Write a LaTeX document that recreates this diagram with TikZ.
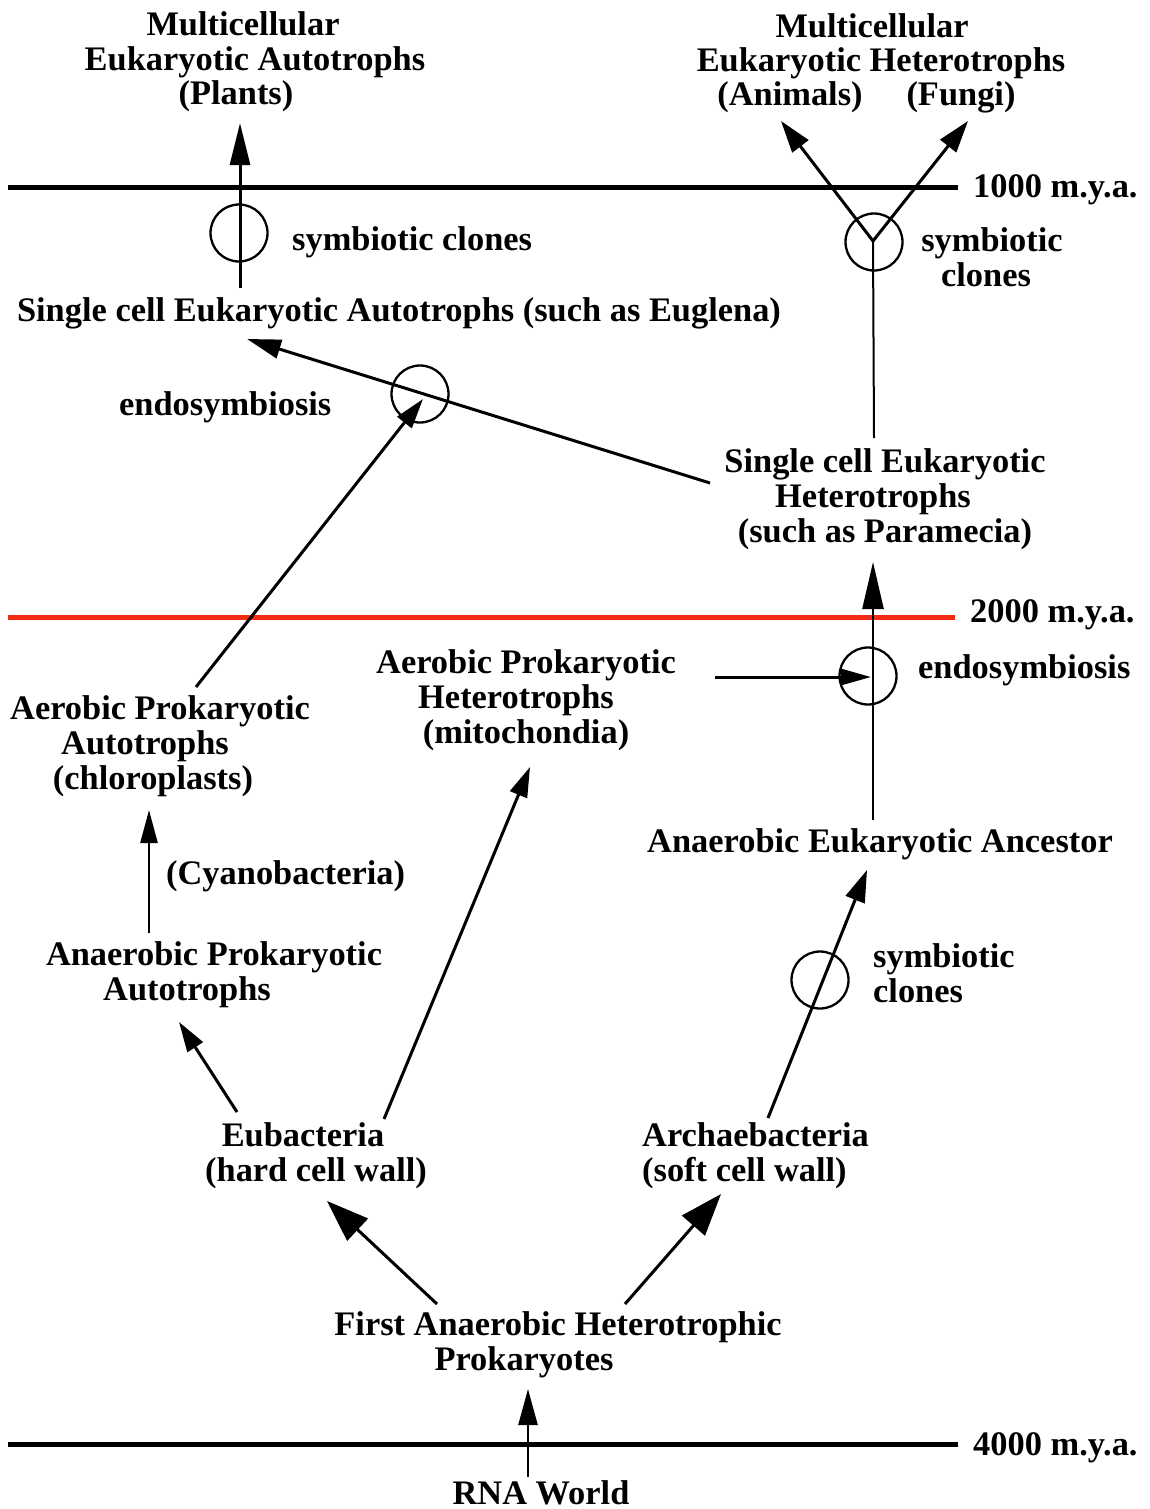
\documentclass[tikz,border=0pt]{standalone}
\usepackage{fontspec}
\setmainfont{Liberation Serif}
\usetikzlibrary{arrows.meta}
\definecolor{erared}{RGB}{240,45,20}
\newcommand\padR[1]{\rule{#1}{0pt}}
\begin{document}
\begin{tikzpicture}[x=1pt,y=-1pt,
  lbl/.style={font=\fontsize{34.4}{34.6}\selectfont\bfseries, inner sep=0pt, anchor=base, align=center},
  lblw/.style={lbl, anchor=base west, align=left},
  arr/.style={line width=3pt, -{Triangle[length=30pt,width=18pt]}},
  ring/.style={draw, circle, line width=2.3pt, minimum size=57pt, inner sep=0pt},
  era/.style={line width=5pt}]
\useasboundingbox (0,0) rectangle (1149,1509);

% era lines
\coordinate (l1a) at (8,187);   \coordinate (l1b) at (958,187);
\coordinate (l2a) at (8,617);   \coordinate (l2b) at (955,617);
\coordinate (l3a) at (8,1444);  \coordinate (l3b) at (958,1444);
\draw[era] (l1a) -- (l1b);
\draw[era, erared] (l2a) -- (l2b);
\draw[era] (l3a) -- (l3b);

% labels (base anchor = baseline of the last line)
\node[lbl] (plants) at (255,105) {Multicellular\padR{24pt}\\Eukaryotic Autotrophs\\(Plants)\padR{38pt}};
\node[lbl] (heter) at (881,72) {Multicellular\padR{18pt}\\Eukaryotic Heterotrophs};
\node[lbl] (animals) at (790,106) {(Animals)};
\node[lbl] (fungi) at (961,106) {(Fungi)};
\node[lblw] (y1000) at (973,197) {1000 m.y.a.};
\node[lblw] (y2000) at (970,622) {2000 m.y.a.};
\node[lblw] (y4000) at (973,1455) {4000 m.y.a.};
\node[lblw] (sc1) at (292,250) {symbiotic clones};
\node[lbl] (sc2) at (992,286) {symbiotic\\clones\padR{12pt}};
\node[lbl] (euglena) at (399,321) {Single cell Eukaryotic Autotrophs (such as Euglena)};
\node[lblw] (endo1) at (119,415) {endosymbiosis};
\node[lbl] (param) at (885,542) {Single cell Eukaryotic\\Heterotrophs\padR{24pt}\\(such as Paramecia)};
\node[lbl] (mito) at (526,743) {Aerobic Prokaryotic\\Heterotrophs\padR{20pt}\\(mitochondia)};
\node[lblw] (endo2) at (918,678) {endosymbiosis};
\node[lbl] (chloro) at (160,789) {Aerobic Prokaryotic\\Autotrophs\padR{30pt}\\(chloroplasts)\padR{14pt}};
\node[lblw] (aea) at (647,852) {Anaerobic Eukaryotic Ancestor};
\node[lblw] (cyano) at (166,884) {(Cyanobacteria)};
\node[lbl] (anpa) at (214,1000) {Anaerobic Prokaryotic\\Autotrophs\padR{54pt}};
\node[lblw] (sc3) at (873,1002) {symbiotic\\clones};
\node[lbl] (eub) at (316,1181) {Eubacteria\padR{26pt}\\(hard cell wall)};
\node[lblw] (arch) at (642,1181) {Archaebacteria\\(soft cell wall)};
\node[lbl] (first) at (558,1370) {First Anaerobic Heterotrophic\\Prokaryotes\padR{68pt}};
\node[lbl] (rna) at (541,1504) {RNA World};

% circles
\node[ring] (c1) at (239,233) {};
\node[ring] (c2) at (874,242) {};
\node[ring] (c3) at (420,394) {};
\node[ring] (c4) at (868,676) {};
\node[ring] (c5) at (820,980) {};

% connector end points
\coordinate (plantsT) at (240,288);  \coordinate (plantsH) at (240,123);
\coordinate (vApex) at (873,241);
\coordinate (animH) at (781,121);    \coordinate (fungH) at (968,121);
\coordinate (paramTop) at (874,438);
\coordinate (eugT) at (710,483);     \coordinate (eugH) at (247,339);
\coordinate (chlT) at (196,687);     \coordinate (chlH) at (423,399);
\coordinate (parT) at (873,820);     \coordinate (parH) at (873,562);
\coordinate (mitT) at (715,677);     \coordinate (mitH) at (871,677);
\coordinate (cyaT) at (149,933);     \coordinate (cyaH) at (149,810);
\coordinate (anpT) at (237,1112);    \coordinate (anpH) at (179,1022);
\coordinate (eumT) at (384,1119);    \coordinate (eumH) at (530,767);
\coordinate (aeaT) at (768,1118);    \coordinate (aeaH) at (867,870);
\coordinate (eubT) at (437,1304);    \coordinate (eubH) at (327,1201);
\coordinate (arcT) at (625,1304);    \coordinate (arcH) at (721,1194);
\coordinate (rnaT) at (528,1477);    \coordinate (rnaH) at (528,1389);

% connectors
\draw[arr, -{Triangle[length=42pt,width=20pt]}] (plantsT) -- (plantsH);
\draw[arr, -{Triangle[length=32pt,width=20pt]}] (vApex) -- (animH);
\draw[arr, -{Triangle[length=32pt,width=20pt]}] (vApex) -- (fungH);
\draw[line width=2pt] (vApex) -- (paramTop);
\draw[arr, -{Triangle[length=34pt,width=19pt]}] (eugT) -- (eugH);
\draw[arr] (chlT) -- (chlH);
\draw[line width=2.5pt, -{Triangle[length=47pt,width=21pt]}] (parT) -- (parH);
\draw[arr, -{Triangle[length=30pt,width=16pt]}] (mitT) -- (mitH);
\draw[arr, line width=2.5pt, -{Triangle[length=33pt,width=17pt]}] (cyaT) -- (cyaH);
\draw[arr] (anpT) -- (anpH);
\draw[arr] (eumT) -- (eumH);
\draw[arr, -{Triangle[length=32pt,width=20pt]}] (aeaT) -- (aeaH);
\draw[arr, -{Triangle[length=42pt,width=30pt]}] (eubT) -- (eubH);
\draw[arr, -{Triangle[length=42pt,width=30pt]}] (arcT) -- (arcH);
\draw[arr, line width=2.5pt, -{Triangle[length=36pt,width=19pt]}] (rnaT) -- (rnaH);
\end{tikzpicture}
\end{document}
